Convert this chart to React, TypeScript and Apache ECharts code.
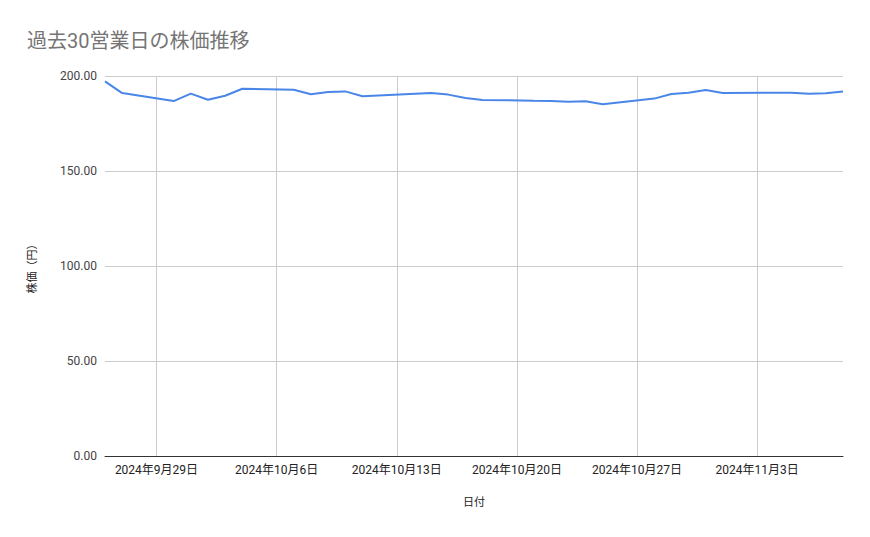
import React, { useEffect, useRef } from "react";
import * as echarts from "echarts";

// 営業日（祝日 10/14, 11/4 は除く）
const dates: string[] = [
  "2024-09-26", "2024-09-27", "2024-09-30", "2024-10-01", "2024-10-02",
  "2024-10-03", "2024-10-04", "2024-10-07", "2024-10-08", "2024-10-09",
  "2024-10-10", "2024-10-11", "2024-10-15", "2024-10-16", "2024-10-17",
  "2024-10-18", "2024-10-21", "2024-10-22", "2024-10-23", "2024-10-24",
  "2024-10-25", "2024-10-28", "2024-10-29", "2024-10-30", "2024-10-31",
  "2024-11-01", "2024-11-05", "2024-11-06", "2024-11-07", "2024-11-08",
];

const prices: number[] = [
  197.2, 191.0, 186.8, 190.7, 187.5,
  189.6, 193.3, 192.8, 190.4, 191.6,
  191.9, 189.3, 191.1, 190.2, 188.4,
  187.4, 187.0, 186.9, 186.5, 186.7,
  185.1, 188.1, 190.5, 191.2, 192.6,
  191.1, 191.2, 190.7, 190.9, 191.8,
];

// 目盛り（毎週日曜）
const tickDates: string[] = [
  "2024-09-29", "2024-10-06", "2024-10-13",
  "2024-10-20", "2024-10-27", "2024-11-03",
];

const axisStart = "2024-09-26";
const axisEnd = "2024-11-08";

const DAY = 86400000;

// 日付 → 通算日数（UTC）
const toDay = (s: string) => {
  const [y, m, d] = s.split("-").map(Number);
  return Date.UTC(y, m - 1, d) / DAY;
};

const formatDate = (v: number) => {
  const d = new Date(Math.round(v) * DAY);
  return `${d.getUTCFullYear()}年${d.getUTCMonth() + 1}月${d.getUTCDate()}日`;
};

const FONT = "Roboto, 'Noto Sans CJK JP', sans-serif";

const App: React.FC = () => {
  const chartRef = useRef<HTMLDivElement>(null);

  useEffect(() => {
    if (!chartRef.current) return;

    const chart = echarts.init(chartRef.current, undefined, { renderer: "svg" });
    const ticks = tickDates.map(toDay);

    const option: echarts.EChartsOption = {
      animation: false,
      backgroundColor: "#ffffff",
      textStyle: { fontFamily: FONT },
      title: {
        text: "過去30営業日の株価推移",
        left: 14,
        top: 18,
        textStyle: {
          fontFamily: FONT,
          fontSize: 20,
          fontWeight: "normal",
          color: "#757575",
        },
      },
      grid: {
        left: 97,
        right: 19,
        top: 68,
        bottom: 73,
      },
      xAxis: {
        type: "value",
        min: toDay(axisStart),
        max: toDay(axisEnd),
        name: "日付",
        nameLocation: "middle",
        nameGap: 41,
        nameTextStyle: { fontFamily: FONT, fontSize: 11, color: "#222" },
        axisLine: { show: true, lineStyle: { color: "#333", width: 1 } },
        axisTick: { show: false, customValues: ticks },
        axisLabel: {
          customValues: ticks,
          formatter: (v: number) => formatDate(v),
          fontFamily: FONT,
          fontSize: 12,
          color: "#222",
          margin: 8,
        },
        splitLine: { show: true, lineStyle: { color: "#cccccc", width: 1 } },
      },
      yAxis: {
        type: "value",
        min: 0,
        max: 200,
        interval: 50,
        name: "株価（円）",
        nameLocation: "middle",
        nameGap: 67,
        nameRotate: 90,
        nameTextStyle: { fontFamily: FONT, fontSize: 11, color: "#222" },
        axisLine: { show: false },
        axisTick: { show: false },
        axisLabel: {
          formatter: (v: number) => v.toFixed(2),
          fontFamily: FONT,
          fontSize: 12,
          color: "#444",
          margin: 8,
        },
        splitLine: { lineStyle: { color: "#cccccc", width: 1 } },
      },
      series: [
        {
          type: "line",
          data: dates.map((d, i) => [toDay(d), prices[i]]),
          showSymbol: false,
          symbol: "none",
          lineStyle: { color: "#4a86e8", width: 2 },
          itemStyle: { color: "#4a86e8" },
        },
      ],
    };

    chart.setOption(option);

    const resizeObserver = new ResizeObserver(() => chart.resize());
    resizeObserver.observe(chartRef.current);

    return () => {
      resizeObserver.disconnect();
      chart.dispose();
    };
  }, []);

  return <div ref={chartRef} style={{ width: "854px", height: "521px" }} />;
};

export default App;
